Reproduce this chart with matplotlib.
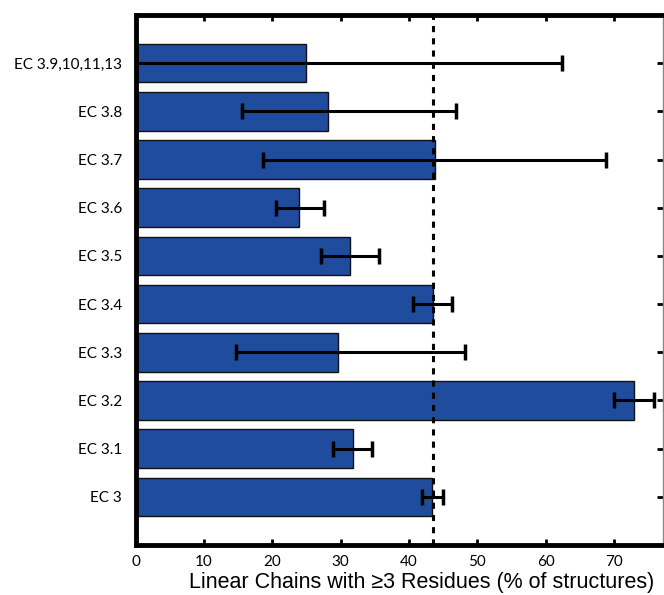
import matplotlib
matplotlib.use('Agg')
import matplotlib.pyplot as plt
import numpy as np

# EC sub-classes, bottom to top
classes = ['EC 3', 'EC 3.1', 'EC 3.2', 'EC 3.3', 'EC 3.4', 'EC 3.5',
           'EC 3.6', 'EC 3.7', 'EC 3.8', 'EC 3.9,10,11,13']
percent = [43.4, 31.8, 72.9, 29.6, 43.5, 31.3, 23.9, 43.8, 28.1, 25.0]
err_low = [1.5, 2.9, 2.9, 14.9, 2.9, 4.1, 3.3, 25.1, 12.5, 37.4]
err_high = [1.6, 2.8, 3.0, 18.6, 2.8, 4.3, 3.6, 25.0, 18.8, 37.4]
overall = 43.5

plt.rcParams['font.family'] = ['Lato', 'DejaVu Sans']

fig = plt.figure(figsize=(6.64, 5.95), dpi=100)
ax = fig.add_axes([0.2044, 0.084, 0.7941, 0.8908])

pos = np.arange(1, len(classes) + 1)
ax.barh(pos, percent, height=0.8, color='#1f4c9c', edgecolor='#111111',
        linewidth=1.0, zorder=2)
ax.errorbar(percent, pos, xerr=[err_low, err_high], fmt='none',
            ecolor='black', elinewidth=2.2, capsize=6, capthick=2.5, zorder=3)
ax.axvline(overall, color='black', linestyle=(0, (2, 2)), linewidth=2.2,
           zorder=4)

ax.set_xlim(0, 77.2)
ax.set_ylim(0, 11)
ax.set_xticks(np.arange(0, 80, 10))
ax.set_yticks(pos)
ax.set_yticklabels(classes)
ax.tick_params(axis='both', direction='in', length=4, width=2,
               top=True, right=True, labelsize=11, pad=7)
ax.tick_params(axis='y', pad=10)
ax.set_xlabel('Linear Chains with \u22653 Residues (% of structures)',
              fontsize=15.5, family=['Liberation Sans', 'DejaVu Sans'])
ax.xaxis.set_label_coords(0.543, -0.05)

for side in ['left', 'bottom', 'top']:
    ax.spines[side].set_linewidth(3.5)
ax.spines['right'].set_linewidth(1.0)
ax.spines['right'].set_color('#888888')

fig.savefig('out.png', dpi=100)
